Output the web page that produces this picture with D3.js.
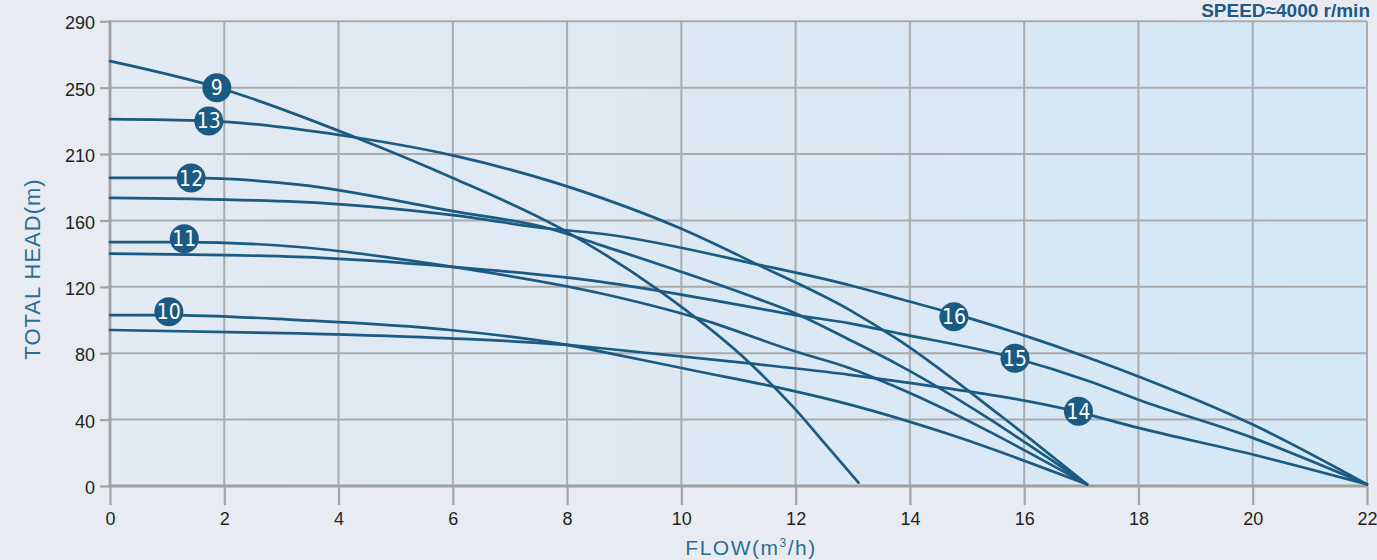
<!DOCTYPE html>
<html>
<head>
<meta charset="utf-8">
<script src="https://cdn.jsdelivr.net/npm/d3@7"></script>
<style>
  html, body { margin: 0; padding: 0; background: #e8ecf2; }
  svg { display: block; }
</style>
</head>
<body>
<svg id="chart" width="1377" height="560"></svg>
<script>
// ---------- DATA ----------
const flowTicks = [0, 2, 4, 6, 8, 10, 12, 14, 16, 18, 20, 22];
const headTicks = [0, 40, 80, 120, 160, 210, 250, 290];

const curveNames = ["9", "10", "11", "12", "13", "14", "15", "16"];

const q9  = [0, 1.9, 4.3, 6, 8, 9.6, 11.2, 12, 12.55, 13.1];
const h9  = [266, 250, 220, 192, 153, 118, 74, 46, 24, 2];
const q10 = [0, 1, 3.3, 5.95, 8, 8.6, 10.3, 11.6, 12.95, 14.7, 17.1];
const h10 = [103, 103, 100, 94, 85, 81, 69, 60, 49, 31, 1];
const q11 = [0, 1.3, 3.3, 6, 8.6, 10.3, 12, 12.95, 13.8, 17.1];
const h11 = [147, 147, 144, 132, 116, 101, 81, 71, 59, 1];
const q12 = [0, 1.4, 3.3, 6, 7.7, 8.6, 11.4, 12, 12.95, 13.8, 17.1];
const h12 = [192, 192, 187, 167, 155, 145, 112, 104, 88, 73, 1];
const q13 = [0, 1.7, 4.3, 6, 8.6, 10, 11.3, 12.95, 13.8, 15.6, 17.1];
const h13 = [231, 230, 220, 209, 177, 155, 134, 106, 88, 42, 1];
const q14 = [0, 3.3, 5.95, 8, 8.6, 11.15, 12.95, 13.8, 16.9, 18, 20, 22];
const h14 = [94, 92, 89, 85, 83, 74, 67, 63, 45, 35, 19, 1];
const q15 = [0, 3.3, 6, 8.6, 10.55, 12, 12.95, 13.8, 15.85, 17.15, 18, 20, 22];
const h15 = [140, 138, 132, 123, 112, 103, 98, 92, 77, 63, 52, 29, 1];
const q16 = [0, 3.3, 6, 7.7, 8.6, 11.4, 12.95, 13.8, 15.05, 17.15, 18, 20, 22];
const h16 = [177, 174, 164, 155, 152, 133, 121, 113, 101, 77, 66, 37, 1];

const flows = [q9, q10, q11, q12, q13, q14, q15, q16];
const heads = [h9, h10, h11, h12, h13, h14, h15, h16];

// label badge positions (flow, head)
const labelQ = [1.87, 1.03, 1.3, 1.42, 1.73, 16.95, 15.84, 14.77];
const labelH = [250, 105, 149, 192, 230, 45, 77, 102];

const xTitle = "FLOW";
const yTitle = "TOTAL HEAD(m)";
const speedText = "SPEED≈4000 r/min";

// ---------- LAYOUT ----------
const W = 1377, H = 560;
const mLeft = 110, mRight = 1367, mTop = 21.3, mBottom = 486;
const svg = d3.select("#chart");

const x = d3.scaleLinear().domain([0, 22]).range([mLeft, mRight]);
const step = (mBottom - mTop) / (headTicks.length - 1);
const y = d3.scaleLinear().domain(headTicks).range(headTicks.map((d, i) => mBottom - i * step));

const lineColor = "#1b5a82";
const gridColor = "#ababab";
const titleColor = "#2d6c95";
const tickColor = "#231f20";

// background gradient
const defs = svg.append("defs");
const grad = defs.append("linearGradient").attr("id", "bg").attr("x1", "0").attr("x2", "1").attr("y1", "0").attr("y2", "0");
grad.append("stop").attr("offset", "0%").attr("stop-color", "#e3eaf2");
grad.append("stop").attr("offset", "100%").attr("stop-color", "#d4e8f6");

svg.append("rect").attr("width", W).attr("height", H).attr("fill", "#e8ecf2");
svg.append("rect").attr("x", mLeft).attr("y", mTop).attr("width", mRight - mLeft).attr("height", mBottom - mTop).attr("fill", "url(#bg)");

// gridlines
const grid = svg.append("g");
grid.selectAll("line.v").data(flowTicks.filter(d => d !== 0)).join("line")
  .attr("class", "v")
  .attr("x1", d => x(d)).attr("x2", d => x(d)).attr("y1", mTop).attr("y2", mBottom)
  .attr("stroke", gridColor).attr("stroke-width", 2);
grid.selectAll("line.h").data(headTicks.filter(d => d !== 0)).join("line")
  .attr("class", "h")
  .attr("x1", mLeft).attr("x2", mRight).attr("y1", d => y(d)).attr("y2", d => y(d))
  .attr("stroke", gridColor).attr("stroke-width", 2);

// axes
const xAxis = d3.axisBottom(x).tickValues(flowTicks).tickSize(19).tickPadding(7).tickFormat(d3.format("d"));
const yAxis = d3.axisLeft(y).tickValues(headTicks).tickSize(10).tickPadding(5).tickFormat(d3.format("d"));

const gx = svg.append("g").attr("transform", `translate(0,${mBottom})`).call(xAxis);
const gy = svg.append("g").attr("transform", `translate(${mLeft},0)`).call(yAxis);
[gx, gy].forEach(g => {
  g.select(".domain").remove();
  g.selectAll(".tick line").attr("stroke", "#a3a3a3").attr("stroke-width", 2.2);
  g.selectAll(".tick text").attr("fill", tickColor)
    .style("font-family", "'Liberation Sans', Arial, sans-serif").style("font-size", "18px");
});
gy.selectAll(".tick text").attr("dy", "0.42em");

svg.append("line").attr("x1", mLeft).attr("x2", mLeft).attr("y1", mTop - 1).attr("y2", mBottom + 1)
  .attr("stroke", "#a0a0a0").attr("stroke-width", 2.8);
svg.append("line").attr("x1", mLeft - 1).attr("x2", mRight + 1).attr("y1", mBottom).attr("y2", mBottom)
  .attr("stroke", "#a0a0a0").attr("stroke-width", 2.8);

// curves
const line = d3.line().x(d => x(d[0])).y(d => y(d[1])).curve(d3.curveMonotoneX);
const series = curveNames.map((n, i) => ({ name: n, pts: flows[i].map((q, j) => [q, heads[i][j]]) }));
svg.append("g").selectAll("path").data(series).join("path")
  .attr("d", d => line(d.pts))
  .attr("fill", "none").attr("stroke", lineColor).attr("stroke-width", 2.7)
  .attr("stroke-linecap", "round").attr("stroke-linejoin", "round");

// label badges
const badges = svg.append("g").selectAll("g").data(curveNames).join("g")
  .attr("transform", (d, i) => `translate(${x(labelQ[i])},${y(labelH[i])})`);
badges.append("circle").attr("r", 14.5).attr("fill", lineColor);
badges.append("text").text(d => d)
  .attr("text-anchor", "middle").attr("dy", "0.36em")
  .attr("fill", "#ffffff")
  .style("font-family", "'Liberation Sans Narrow', 'DejaVu Sans Condensed', 'Liberation Sans', sans-serif")
  .style("font-stretch", "condensed")
  .style("font-size", "21px");

// titles
const xt = svg.append("text").attr("x", 751).attr("y", 555).attr("text-anchor", "middle")
  .attr("fill", titleColor)
  .style("font-family", "'Liberation Sans', Arial, sans-serif").style("font-size", "21px")
  .style("letter-spacing", "1.5px");
xt.append("tspan").text(xTitle + "(m");
xt.append("tspan").text("3").attr("dy", -8).style("font-size", "12px");
xt.append("tspan").text("/h)").attr("dy", 8);

svg.append("text").attr("transform", `translate(40,269) rotate(-90)`).attr("text-anchor", "middle")
  .attr("fill", titleColor)
  .style("font-family", "'Liberation Sans', Arial, sans-serif").style("font-size", "22px")
  .style("letter-spacing", "1px")
  .text(yTitle);

svg.append("text").attr("x", 1370).attr("y", 17).attr("text-anchor", "end")
  .attr("fill", "#1d5a85")
  .style("font-family", "'Liberation Sans', Arial, sans-serif").style("font-size", "19px").style("font-weight", "bold")
  .text(speedText);
</script>
</body>
</html>
